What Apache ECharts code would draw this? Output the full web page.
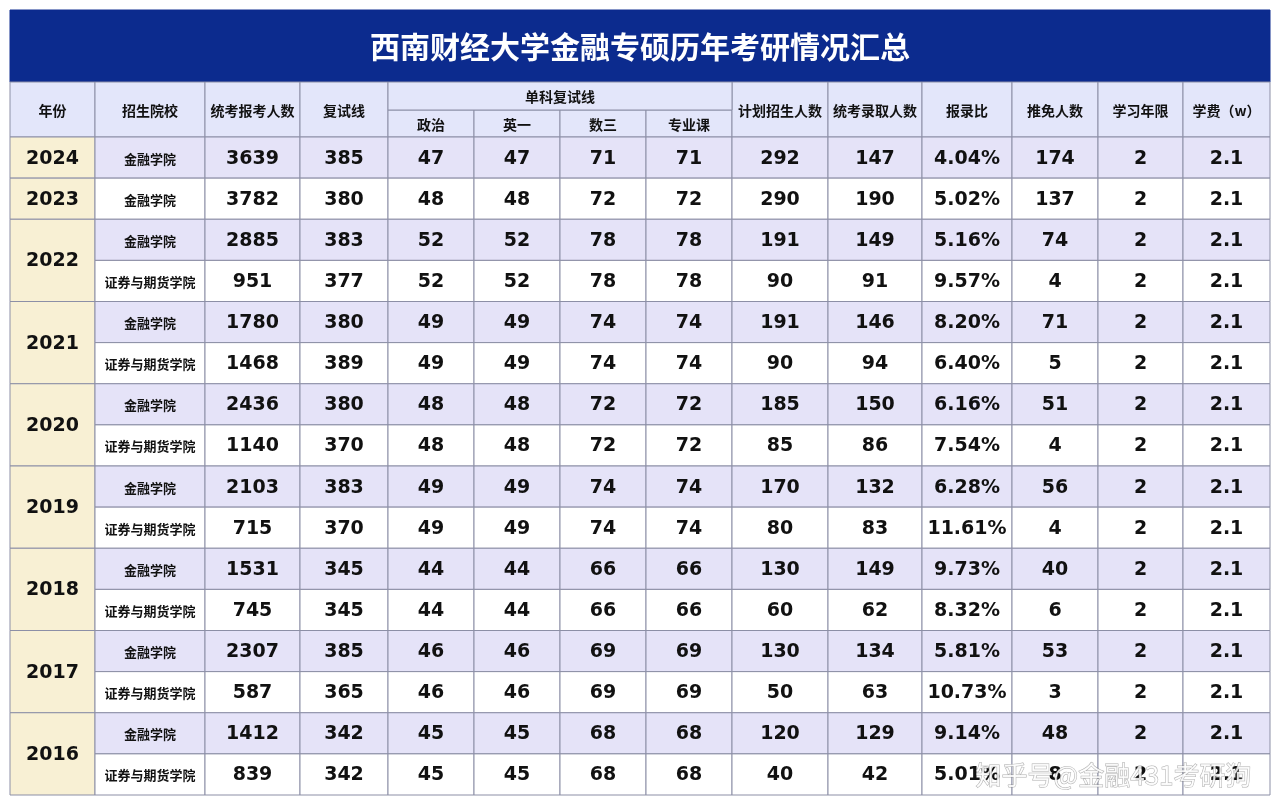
<!DOCTYPE html>
<html><head><meta charset="utf-8">
<script src="https://cdn.jsdelivr.net/npm/echarts@6/dist/echarts.min.js"></script>
<style>html,body{margin:0;background:#fff}#c{width:1280px;height:803px}</style>
</head><body><div id="c"></div>
<script>
const titleText = '西南财经大学金融专硕历年考研情况汇总';
const headers = ['年份', '招生院校', '统考报考人数', '复试线', '政治', '英一', '数三', '专业课', '计划招生人数', '统考录取人数', '报录比', '推免人数', '学习年限', '学费（w）'];
const years = ['2024', '2023', '2022', '2021', '2020', '2019', '2018', '2017', '2016'];
const yearSpans = [1, 1, 2, 2, 2, 2, 2, 2, 2];
const schools = ['金融学院', '金融学院', '金融学院', '证券与期货学院', '金融学院', '证券与期货学院', '金融学院', '证券与期货学院', '金融学院', '证券与期货学院', '金融学院', '证券与期货学院', '金融学院', '证券与期货学院', '金融学院', '证券与期货学院'];
const applicants = [3639, 3782, 2885, 951, 1780, 1468, 2436, 1140, 2103, 715, 1531, 745, 2307, 587, 1412, 839];
const retestLine = [385, 380, 383, 377, 380, 389, 380, 370, 383, 370, 345, 345, 385, 365, 342, 342];
const politics = [47, 48, 52, 52, 49, 49, 48, 48, 49, 49, 44, 44, 46, 46, 45, 45];
const english = [47, 48, 52, 52, 49, 49, 48, 48, 49, 49, 44, 44, 46, 46, 45, 45];
const math = [71, 72, 78, 78, 74, 74, 72, 72, 74, 74, 66, 66, 69, 69, 68, 68];
const major = [71, 72, 78, 78, 74, 74, 72, 72, 74, 74, 66, 66, 69, 69, 68, 68];
const planned = [292, 290, 191, 90, 191, 90, 185, 85, 170, 80, 130, 60, 130, 50, 120, 40];
const admitted = [147, 190, 149, 91, 146, 94, 150, 86, 132, 83, 149, 62, 134, 63, 129, 42];
const ratio = ['4.04%', '5.02%', '5.16%', '9.57%', '8.20%', '6.40%', '6.16%', '7.54%', '6.28%', '11.61%', '9.73%', '8.32%', '5.81%', '10.73%', '9.14%', '5.01%'];
const exempt = [174, 137, 74, 4, 71, 5, 51, 4, 56, 4, 40, 6, 53, 3, 48, 8];
const studyYears = [2, 2, 2, 2, 2, 2, 2, 2, 2, 2, 2, 2, 2, 2, 2, 2];
const fees = [2.1, 2.1, 2.1, 2.1, 2.1, 2.1, 2.1, 2.1, 2.1, 2.1, 2.1, 2.1, 2.1, 2.1, 2.1, 2.1];

// layout (not data)
const colW = [85, 110, 95, 88, 86, 86, 86, 86, 96, 94, 90, 86, 85, 87];
const colX = [0];
colW.forEach(w => colX.push(colX[colX.length - 1] + w));
const titleH = 72, h1 = 28, h2 = 27, rowH = 41.125;
const dataTop = titleH + h1 + h2;
const totalH = dataTop + rowH * schools.length;

const NAVY = '#0c2b8e', LAV = '#e5e3f8', HEAD = '#e3e6fa', YEAR = '#f8f0d4';
const cells = [];
const add = (c0, c1, y0, y1, text, fill, kind) => cells.push([colX[c0], colX[c1], y0, y1, text, fill, kind]);

add(0, 14, 0, titleH, titleText, NAVY, 'title');
headers.forEach((h, i) => {
  if (i >= 4 && i <= 7) add(i, i + 1, titleH + h1, dataTop, h, HEAD, 'head');
  else add(i, i + 1, titleH, dataTop, h, HEAD, 'head');
});
add(4, 8, titleH, titleH + h1, '单科复试线', HEAD, 'head');

let r = 0;
years.forEach((y, i) => {
  add(0, 1, dataTop + r * rowH, dataTop + (r + yearSpans[i]) * rowH, y, YEAR, 'num');
  r += yearSpans[i];
});
const cols = [schools, applicants, retestLine, politics, english, math, major, planned, admitted, ratio, exempt, studyYears, fees];
schools.forEach((s, ri) => {
  const fill = ri % 2 === 0 ? LAV : '#ffffff';
  cols.forEach((arr, ci) => {
    add(ci + 1, ci + 2, dataTop + ri * rowH, dataTop + (ri + 1) * rowH, String(arr[ri]), fill, ci === 0 ? 'school' : 'num');
  });
});

const chart = echarts.init(document.getElementById('c'));
chart.setOption({
  animation: false,
  grid: { left: 10, right: 10, top: 10, bottom: 8 },
  xAxis: { type: 'value', min: 0, max: colX[colX.length - 1], show: false },
  yAxis: { type: 'value', min: 0, max: totalH, inverse: true, show: false },
  graphic: [{
    type: 'text', right: 28, bottom: 14, z: 100,
    style: { text: '知乎号@金融431考研狗', fill: 'rgba(255,255,255,0.85)', stroke: 'rgba(120,120,120,0.6)', lineWidth: 1, font: '26px "Noto Sans CJK SC"' }
  }],
  series: [{
    type: 'custom',
    data: cells,
    renderItem: (params, api) => {
      const d = cells[params.dataIndex];
      const p0 = api.coord([d[0], d[2]]);
      const p1 = api.coord([d[1], d[3]]);
      const kind = d[6];
      let font = 'bold 19px "DejaVu Sans"', color = '#111';
      if (kind === 'title') { font = 'bold 30px "Noto Sans CJK SC"'; color = '#fff'; }
      else if (kind === 'head') font = 'bold 14px "Noto Sans CJK SC"';
      else if (kind === 'school') font = 'bold 13px "Noto Sans CJK SC"';
      return {
        type: 'group',
        children: [{
          type: 'rect',
          shape: { x: p0[0], y: p0[1], width: p1[0] - p0[0], height: p1[1] - p0[1] },
          style: { fill: d[5], stroke: kind === 'title' ? NAVY : '#8c8fa6', lineWidth: 1 }
        }, {
          type: 'text',
          style: { text: d[4], x: (p0[0] + p1[0]) / 2, y: (p0[1] + p1[1]) / 2 + 1, align: 'center', verticalAlign: 'middle', font, fill: color }
        }]
      };
    }
  }]
});
</script></body></html>
